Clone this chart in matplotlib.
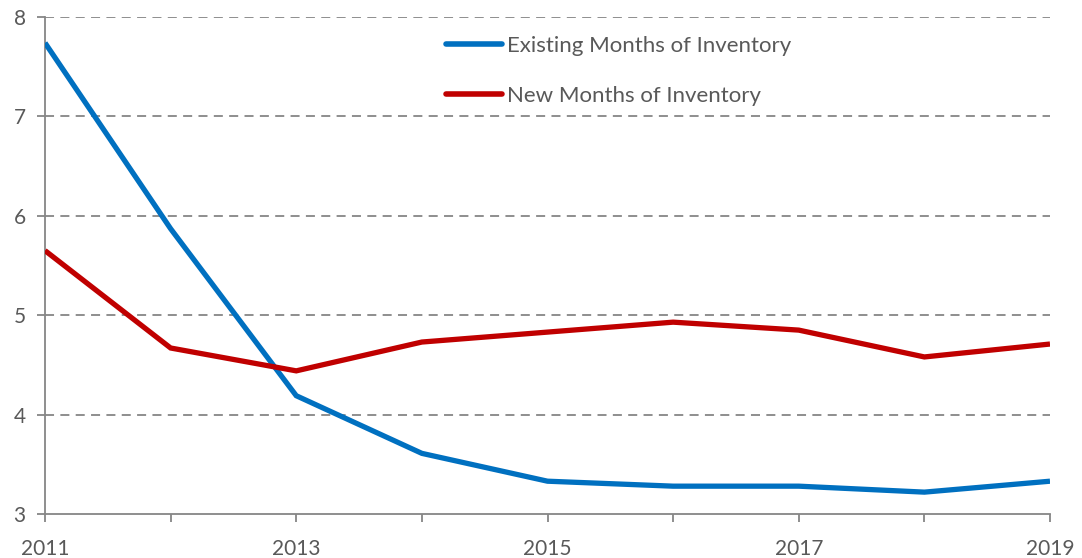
import matplotlib
matplotlib.use("Agg")
import matplotlib.pyplot as plt
from matplotlib.lines import Line2D

years = [2011, 2012, 2013, 2014, 2015, 2016, 2017, 2018, 2019]
existing = [7.74, 5.87, 4.19, 3.61, 3.33, 3.28, 3.28, 3.22, 3.33]
new = [5.65, 4.67, 4.44, 4.73, 4.83, 4.93, 4.85, 4.58, 4.71]
series_names = ["Existing Months of Inventory", "New Months of Inventory"]
xtick_labels = ["2011", "", "2013", "", "2015", "", "2017", "", "2019"]
yticks = [3, 4, 5, 6, 7, 8]

plt.rcParams['font.family'] = ['Lato', 'DejaVu Sans']
gray = "#595959"
axis_gray = "#868686"

fig = plt.figure(figsize=(10.82, 5.58), dpi=100)
W, H = 1082, 558
ax = fig.add_axes([45 / W, 1 - 514 / H, (1050 - 45) / W, (514 - 17) / H])

blue = "#0070C0"
red = "#C00000"
l1, = ax.plot(years, existing, color=blue, lw=3.8, solid_capstyle='butt', solid_joinstyle='miter', zorder=3)
l2, = ax.plot(years, new, color=red, lw=3.8, solid_capstyle='butt', solid_joinstyle='miter', zorder=3)

ax.set_xlim(2011, 2019)
ax.set_ylim(3, 8)
ax.set_yticks(yticks)
ax.set_xticks(years)
ax.set_xticklabels(xtick_labels)

for y in yticks[1:]:
    ax.axhline(y, color=axis_gray, lw=1.3, ls=(0, (5, 3.5)), zorder=1)

for s in ['top', 'right']:
    ax.spines[s].set_visible(False)
for s in ['left', 'bottom']:
    ax.spines[s].set_color(axis_gray)
    ax.spines[s].set_linewidth(1.3)

ax.tick_params(axis='both', direction='out', length=6, width=1.3, color=axis_gray,
               labelcolor=gray, labelsize=15)
ax.tick_params(axis='x', pad=12)
ax.tick_params(axis='y', pad=8)

leg = ax.legend([l1, l2], series_names, loc='upper left',
                bbox_to_anchor=(0.3836, 1.0 - 3 / 497), frameon=False,
                fontsize=16, labelcolor=gray, handlelength=2.5, handletextpad=0.22,
                labelspacing=1.38, borderaxespad=0.3)
for h in leg.get_lines():
    h.set_solid_capstyle('round')
    h.set_linewidth(4)

fig.savefig("out.png", dpi=100)
